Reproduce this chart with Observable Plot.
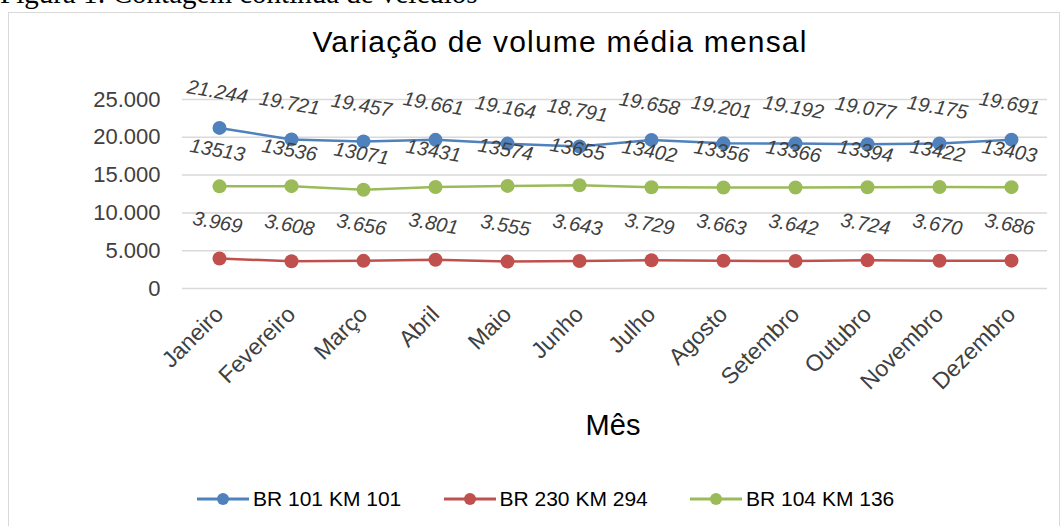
<!DOCTYPE html>
<html>
<head>
<meta charset="utf-8">
<script src="https://cdn.jsdelivr.net/npm/d3@7"></script>
<script src="https://cdn.jsdelivr.net/npm/@observablehq/plot@0.6"></script>
<style>
  html, body { margin: 0; padding: 0; background: #fff; width: 1062px; height: 526px; overflow: hidden; position: relative; font-family: "Liberation Sans", Arial, sans-serif; }
  #caption { position: absolute; left: 0; top: -23px; font-family: "Liberation Serif", "Times New Roman", serif; font-size: 29px; color: #000; white-space: nowrap; }
  #box { position: absolute; left: 8px; top: 12px; width: 1052px; height: 530px; border: 1px solid #d9d9d9; box-sizing: border-box; }
  #title { position: absolute; left: 0; width: 1120px; text-align: center; top: 25px; font-size: 30px; letter-spacing: 1.2px; color: #000; }
  #chart { position: absolute; left: 0; top: 60px; }
  #xlabel { position: absolute; left: 0; width: 1226px; text-align: center; top: 409px; font-size: 29px; color: #000; }
  .item { position: absolute; top: 487px; display: flex; align-items: center; font-size: 21px; color: #000; white-space: nowrap; }
  .item svg { margin-right: 4px; }
</style>
</head>
<body>
<div id="caption">Figura 1: Contagem contínua de veículos</div>
<div id="box"></div>
<div id="title">Variação de volume média mensal</div>
<div id="chart"></div>
<div id="xlabel">Mês</div>
<div id="legend"></div>
<script>
const months = ["Janeiro","Fevereiro","Março","Abril","Maio","Junho","Julho","Agosto","Setembro","Outubro","Novembro","Dezembro"];
const seriesNames = ["BR 101 KM 101","BR 230 KM 294","BR 104 KM 136"];
const seriesColors = ["#4F81BD","#C0504D","#9BBB59"];
const br101km101 = [21244,19721,19457,19661,19164,18791,19658,19201,19192,19077,19175,19691];
const br230km294 = [3969,3608,3656,3801,3555,3643,3729,3663,3642,3724,3670,3686];
const br104km136 = [13513,13536,13071,13431,13574,13655,13402,13356,13366,13394,13422,13403];
const yTicks = [0,5000,10000,15000,20000,25000];

const ptBR = d3.formatLocale({decimal: ",", thousands: ".", grouping: [3], currency: ["R$", ""]});
const fmtDot = ptBR.format(",d");
const fmtPlain = d3.format("d");

const seriesValues = [br101km101, br230km294, br104km136];
const seriesFormats = [fmtDot, fmtDot, fmtPlain];
const data = [];
seriesValues.forEach((vals, s) => {
  vals.forEach((v, i) => data.push({month: months[i], value: v, series: seriesNames[s], label: seriesFormats[s](v)}));
});

const chart = Plot.plot({
  width: 1062,
  height: 400,
  marginLeft: 182,
  marginRight: 15,
  marginTop: 39,
  marginBottom: 172,
  x: {type: "point", domain: months, padding: 0.5, label: null},
  y: {domain: [0, 25000], label: null},
  color: {domain: seriesNames, range: seriesColors},
  style: {fontFamily: "Liberation Sans, Arial, sans-serif", color: "#404040", background: "transparent"},
  marks: [
    Plot.gridY(yTicks, {stroke: "#d9d9d9", strokeOpacity: 1, strokeWidth: 1.5}),
    Plot.axisY(yTicks, {tickSize: 0, tickPadding: 22, tickFormat: fmtDot, fontSize: 22, fill: "#404040"}),
    Plot.axisX({tickSize: 0, tickPadding: 22, tickRotate: -45, fontSize: 23, fill: "#404040"}),
    Plot.line(data, {x: "month", y: "value", z: "series", stroke: "series", strokeWidth: 2.5}),
    Plot.dot(data, {x: "month", y: "value", fill: "series", r: 7}),
    Plot.text(data, {x: "month", y: "value", text: "label", dy: -36, dx: -2, rotate: 10, fontStyle: "italic", fontSize: 20, fill: "#404040"})
  ]
});
document.getElementById("chart").appendChild(chart);

const legend = document.getElementById("legend");
seriesNames.forEach((name, i) => {
  const item = document.createElement("div");
  item.className = "item";
  item.style.left = (197 + i * 246.5) + "px";
  item.innerHTML = `<svg width="52" height="16"><line x1="0" x2="52" y1="8" y2="8" stroke="${seriesColors[i]}" stroke-width="3"/><circle cx="26" cy="8" r="6" fill="${seriesColors[i]}"/></svg><span>${name}</span>`;
  legend.appendChild(item);
});
</script>
</body>
</html>
